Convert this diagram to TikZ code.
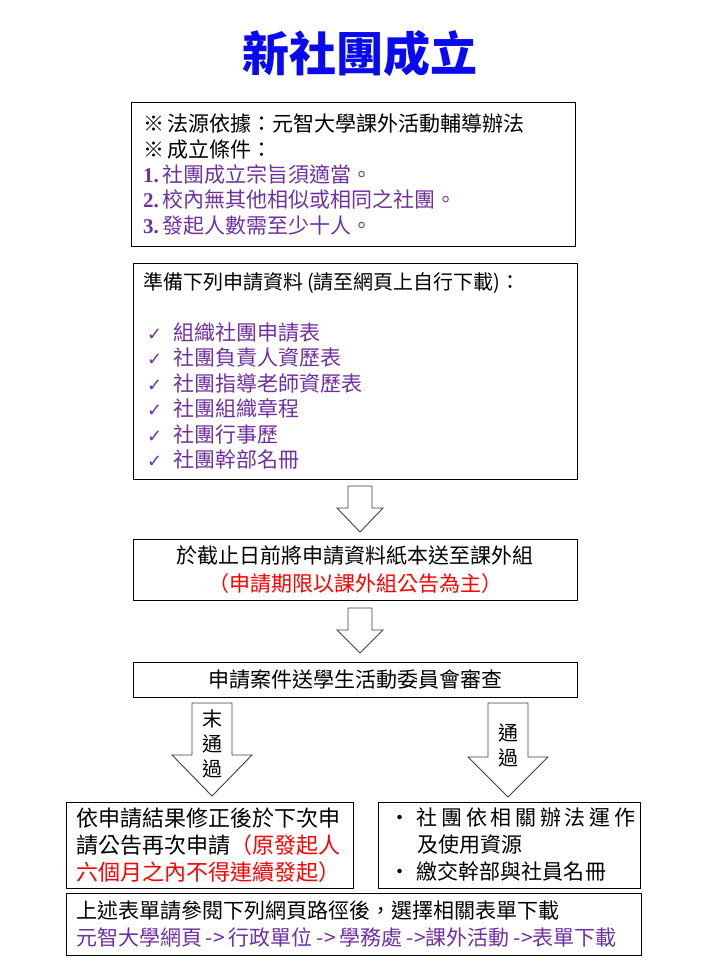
\documentclass[tikz,border=0pt]{standalone}
\usepackage{fontspec}
\setmainfont{Noto Sans CJK TC}
\newfontfamily\symfont{DejaVu Sans}
\newfontfamily\numfont{Liberation Serif}
\usetikzlibrary{calc}

\definecolor{clubpurple}{HTML}{7030A0}
\definecolor{clubred}{HTML}{FF0000}
\definecolor{clubblue}{HTML}{0A0AF0}

\newcommand{\fs}[2]{\fontsize{#1}{#2}\selectfont}
\newcommand{\gap}{\hspace{4pt}}
\newcommand{\num}[1]{{\numfont\bfseries #1.}\gap}
\newcommand{\chk}{\makebox[30pt][l]{\hspace{4pt}{\symfont\fs{18}{25.5}✓}}}
\newcommand{\blt}{\makebox[35pt][l]{\hspace{7pt}•}}
% hollow block arrow: x, top, head start, tip, shaft half width, head half width
\newcommand{\blockarrow}[6]{%
  \draw[blockarrow] (#1-#5,#2) -- (#1+#5,#2) -- (#1+#5,#3) -- (#1+#6,#3)
    -- (#1,#4) -- (#1-#6,#3) -- (#1-#5,#3) -- cycle;}

\tikzset{
  box/.style={draw, line width=1pt, inner sep=0pt},
  blockarrow/.style={draw=black!75, fill=white, line width=0.9pt, line join=miter},
}

\begin{document}
\begin{tikzpicture}[x=1pt,y=-1pt]
  \useasboundingbox (0,0) rectangle (720,960);

  \node[font=\fs{47}{50}\bfseries, text=clubblue] (title) at (360,54) {新社團成立};

  \node[box, minimum width=444, minimum height=143, text width=420, align=left,
        font=\fs{21}{25.3}] (legal) at (353,174.5)
    {※\gap 法源依據：元智大學課外活動輔導辦法\\
     ※\gap 成立條件：\\
     {\color{clubpurple}\num{1}社團成立宗旨須適當。}\\
     {\color{clubpurple}\num{2}校內無其他相似或相同之社團。}\\
     {\color{clubpurple}\num{3}發起人數需至少十人。}};

  \node[box, minimum width=444, minimum height=216, text width=424, align=left,
        font=\fs{20}{25.5}] (docs) at (355,371)
    {準備下列申請資料\gap(請至網頁上自行下載)：\\[25.5pt]
     {\fs{21}{25.5}\color{clubpurple}\chk 組織社團申請表}\\
     {\fs{21}{25.5}\color{clubpurple}\chk 社團負責人資歷表}\\
     {\fs{21}{25.5}\color{clubpurple}\chk 社團指導老師資歷表}\\
     {\fs{21}{25.5}\color{clubpurple}\chk 社團組織章程}\\
     {\fs{21}{25.5}\color{clubpurple}\chk 社團行事歷}\\
     {\fs{21}{25.5}\color{clubpurple}\chk 社團幹部名冊}};

  \node[box, minimum width=444, minimum height=61, align=center,
        font=\fs{21}{28}] (submit) at (355,569.5)
    {於截止日前將申請資料紙本送至課外組\\
     {\color{clubred}（申請期限以課外組公告為主）}};

  \node[box, minimum width=444, minimum height=35, align=center,
        font=\fs{21}{25}] (review) at (355,679.5)
    {申請案件送學生活動委員會審查};

  \node[box, minimum width=287, minimum height=86, text width=267, align=left,
        font=\fs{22}{27}] (fail) at (209.5,845)
    {依申請結果修正後於下次申\\
     請公告再次申請{\color{clubred}（原發起人}\\
     {\color{clubred}六個月之內不得連續發起）}};

  \node[box, minimum width=262, minimum height=86, text width=254, align=left,
        font=\fs{21}{27}] (pass) at (509,845)
    {\blt\makebox[218pt][s]{社\hfill 團\hfill 依\hfill 相\hfill 關\hfill 辦\hfill 法\hfill 運\hfill 作}\\
     \hspace*{35pt}及使用資源\\
     \blt 繳交幹部與社員名冊};

  \node[box, minimum width=575, minimum height=62, text width=555, align=left,
        font=\fs{21}{27}] (links) at (353.5,924)
    {上述表單請參閱下列網頁路徑後，選擇相關表單下載\\
     {\color{clubpurple}元智大學網頁\gap->\gap 行政單位\gap->\gap 學務處\gap->課外活動\gap->表單下載}};

  % arrows between the steps
  \blockarrow{360}{486}{508}{532}{12}{23}
  \blockarrow{360}{608}{630}{653}{12}{23}
  \blockarrow{212}{703}{755}{796}{20}{40}
  \blockarrow{508}{703}{757}{797}{20}{40}

  \node[align=center, font=\fs{20}{25}] (failtag) at (212,744) {末\\通\\過};
  \node[align=center, font=\fs{20}{25}] (passtag) at (508,745) {通\\過};
\end{tikzpicture}
\end{document}
